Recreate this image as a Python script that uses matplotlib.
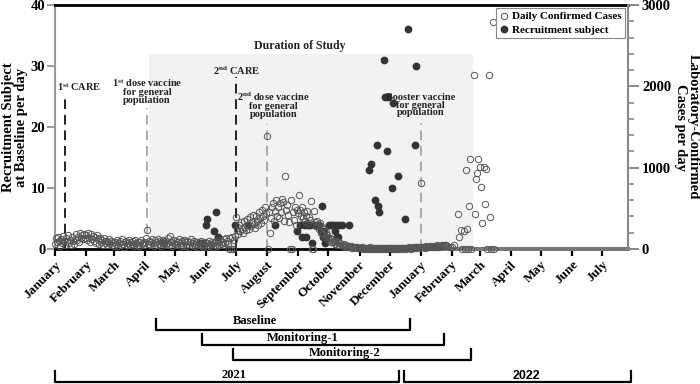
import numpy as np
import pandas as pd
import matplotlib
matplotlib.use('Agg')
import matplotlib.pyplot as plt
import matplotlib.dates as mdates
import matplotlib.transforms as mtransforms
from matplotlib.lines import Line2D

plt.rcParams['font.family'] = ['Liberation Serif', 'DejaVu Serif']
plt.rcParams['font.weight'] = 'bold'
plt.rcParams['mathtext.fontset'] = 'custom'
plt.rcParams['mathtext.rm'] = 'Liberation Serif:bold'
plt.rcParams['mathtext.it'] = 'Liberation Serif:bold'
plt.rcParams['mathtext.bf'] = 'Liberation Serif:bold'

# daily confirmed cases (right axis), one value per day from 1 Jan 2021
cases_2021_01 = [60, 130, 80, 150, 95, 40, 120, 70, 160, 100, 55, 135, 90, 170, 75, 115,
                 50, 145, 100, 65, 125, 180, 110, 150, 85, 200, 140, 175, 120, 190, 135]
cases_2021_02 = [170, 110, 195, 140, 80, 180, 125, 160, 95, 150, 70, 175, 120, 60,
                 140, 90, 110, 55, 130, 75, 100, 45, 85, 120, 60, 95, 50, 80]
cases_2021_03 = [40, 90, 60, 110, 35, 75, 95, 50, 120, 65, 30, 85, 100, 55, 70, 110,
                 45, 80, 60, 95, 40, 115, 70, 55, 90, 35, 80, 105, 60, 75, 50]
cases_2021_04 = [85, 130, 235, 60, 100, 45, 90, 120, 70, 40, 110, 80, 55, 125, 65,
                 95, 35, 85, 115, 60, 100, 45, 75, 130, 55, 160, 90, 40, 105, 70]
cases_2021_05 = [60, 100, 45, 90, 120, 70, 35, 95, 55, 110, 80, 40, 100, 65, 30, 85,
                 120, 50, 70, 95, 40, 60, 85, 30, 75, 50, 95, 35, 65, 40, 80]
cases_2021_06 = [30, 75, 50, 95, 35, 60, 85, 25, 70, 45, 100, 40, 80, 55, 110,
                 65, 90, 50, 120, 75, 140, 95, 60, 0, 130, 0, 150, 0, 110, 160]
cases_2021_07 = [390, 235, 180, 290, 220, 330, 250, 200, 340, 270, 230, 370, 300, 250, 390, 280,
                 330, 420, 310, 260, 400, 350, 290, 450, 380, 320, 480, 410, 360, 520, 440]
cases_2021_08 = [1390, 0, 450, 200, 380, 520, 560, 340, 470, 600, 410, 520, 380, 570, 460, 620,
                 580, 350, 900, 480, 540, 420, 330, 0, 600, 0, 450, 360, 520, 300, 480]
cases_2021_09 = [440, 665, 480, 400, 520, 380, 450, 350, 410, 470, 320, 390, 360, 590, 0,
                 0, 465, 330, 280, 350, 300, 250, 320, 200, 270, 180, 240, 150, 210, 170]
cases_2021_10 = [150, 110, 135, 90, 120, 80, 100, 65, 95, 55, 80, 45, 70, 50, 35, 60,
                 30, 50, 25, 40, 30, 20, 35, 15, 25, 30, 10, 20, 25, 10, 15]
cases_2021_11 = [15, 10, 20, 5, 15, 10, 5, 15, 10, 5, 20, 10, 5, 15, 5,
                 10, 15, 5, 10, 5, 15, 10, 5, 10, 15, 5, 10, 5, 15, 10]
cases_2021_12 = [10, 15, 5, 10, 15, 5, 10, 5, 15, 10, 5, 10, 15, 5, 10, 15,
                 5, 10, 15, 20, 10, 5, 15, 25, 10, 30, 15, 25, 30, 15, 25]
cases_2022_01 = [810, 20, 30, 25, 15, 35, 20, 30, 25, 40, 20, 35, 30,
                 25, 40, 30, 45, 37, 30, 40, 35, 45, 50, 40, 55, 45]

# Omicron surge, read point by point
surge_dates = ['2022-01-27', '2022-01-30', '2022-02-01', '2022-02-03', '2022-02-07', '2022-02-08',
               '2022-02-10', '2022-02-11', '2022-02-13', '2022-02-14', '2022-02-15', '2022-02-16',
               '2022-02-17', '2022-02-18', '2022-02-19', '2022-02-20', '2022-02-23', '2022-02-24',
               '2022-02-25', '2022-02-26', '2022-02-27', '2022-03-01', '2022-03-02', '2022-03-03',
               '2022-03-05', '2022-03-06', '2022-03-07', '2022-03-08', '2022-03-10', '2022-03-11',
               '2022-03-12', '2022-03-14', '2022-03-15']
surge_cases = [40, 30, 25, 50, 430, 150, 230, 0, 220, 0, 970, 245, 0, 530, 1110, 0, 2140, 430,
               860, 935, 1110, 1010, 765, 320, 1010, 550, 985, 0, 2140, 395, 0, 2790, 0]

# recruitment subjects at baseline (left axis)
recruit_dates = ['2021-04-19', '2021-05-25', '2021-05-27', '2021-05-29', '2021-06-01', '2021-06-02',
                 '2021-06-09', '2021-06-11', '2021-06-13', '2021-06-30', '2021-07-13', '2021-08-09',
                 '2021-08-31', '2021-09-03', '2021-09-05', '2021-09-08', '2021-09-09', '2021-09-11',
                 '2021-09-13', '2021-09-15', '2021-09-18', '2021-09-20', '2021-09-22', '2021-09-24',
                 '2021-09-25', '2021-09-26', '2021-09-27', '2021-09-28', '2021-09-29', '2021-10-02',
                 '2021-10-04', '2021-10-06', '2021-10-08', '2021-10-09', '2021-10-10', '2021-10-11',
                 '2021-10-12', '2021-10-14', '2021-10-21',
                 '2021-11-10', '2021-11-12', '2021-11-16', '2021-11-18', '2021-11-19', '2021-11-20',
                 '2021-11-25', '2021-11-26', '2021-11-28', '2021-11-29', '2021-12-03', '2021-12-04',
                 '2021-12-09', '2021-12-16', '2021-12-19', '2021-12-26', '2021-12-27']
recruit_counts = [1, 1, 1, 1, 4, 5, 3, 6, 2, 4, 4, 4,
                  3, 4, 2, 4, 2, 4, 4, 1, 4, 4, 4, 3,
                  7, 2, 3, 1, 2, 4, 4, 4, 3, 4, 2, 2, 4, 4, 4,
                  13, 14, 8, 17, 7, 6, 31, 25, 16, 25, 10, 24, 12, 5, 36, 17, 30]
recruit_zero_start, recruit_zero_end = '2021-10-24', '2022-07-27'

study_start, study_end, study_top = '2021-04-05', '2022-02-22', 32

# events: label, date, colour, line top (left units)
event_labels = ['1$^{st}$ CARE', '1$^{st}$ dose vaccine\nfor general\npopulation', '2$^{nd}$ CARE',
                '2$^{nd}$ dose vaccine\nfor general\npopulation', 'Booster vaccine\nfor general\npopulation']
event_dates = ['2021-01-11', '2021-04-03', '2021-07-01', '2021-08-01', '2022-01-01']
event_colors = ['#222222', '#aaaaaa', '#222222', '#aaaaaa', '#aaaaaa']
event_tops = [25.3, 23.1, 28.2, 20.5, 20.6]
event_text_x = ['2021-01-25', '2021-04-03', '2021-07-01', '2021-08-07', '2022-01-01']
event_text_y = [26.6, 25.9, 29.2, 23.6, 23.6]

# periods shown as brackets under the axis
periods = [('Baseline', '2021-04-12', '2021-12-21'),
           ('Monitoring-1', '2021-05-28', '2022-01-24'),
           ('Monitoring-2', '2021-06-28', '2022-02-20'),
           ('2021', '2021-01-01', '2021-12-10'),
           ('2022', '2021-12-15', '2022-07-30')]
period_line_px = [330, 345, 360, 382, 382]
period_text_px = [321, 338, 353, 375, 376]
period_text_frac = [0.39, 0.415, 0.47, 0.52, 0.54]

cases_daily = (cases_2021_01 + cases_2021_02 + cases_2021_03 + cases_2021_04 + cases_2021_05 +
               cases_2021_06 + cases_2021_07 + cases_2021_08 + cases_2021_09 + cases_2021_10 +
               cases_2021_11 + cases_2021_12 + cases_2022_01)
case_days = pd.date_range('2021-01-01', periods=len(cases_daily), freq='D')
case_x = list(case_days) + list(pd.to_datetime(surge_dates))
case_y = cases_daily + surge_cases

fig = plt.figure(figsize=(7, 3.84), dpi=100)
ax = fig.add_axes([55 / 700, 1 - 249 / 384, 573 / 700, 244 / 384])
ax2 = ax.twinx()

# study duration shading
ax.fill_between(pd.to_datetime([study_start, study_end]), 0, study_top,
                color='#f2f2f2', lw=0, zorder=0)
ax.text(pd.Timestamp('2021-09-02'), 33.2, 'Duration of Study', ha='center', va='center',
        fontsize=8.5, fontweight='bold', color='#222')

# event lines
for lab, d, c, top, tx, ty in zip(event_labels, event_dates, event_colors, event_tops,
                                  event_text_x, event_text_y):
    ax.vlines(pd.Timestamp(d), 0, top, colors=c, linestyles=(0, (5, 3)), lw=1.4, zorder=1)
    ax.text(pd.Timestamp(tx), ty, lab, ha='center', va='center', fontsize=7.5,
            fontweight='bold', color='#222', linespacing=0.85, zorder=4)

# recruitment
zero_days = pd.date_range(recruit_zero_start, recruit_zero_end, freq='D')
ax.plot(zero_days, np.zeros(len(zero_days)), ls='none', marker='s', ms=2.6,
        color='#777777', mew=0, clip_on=False, zorder=3)
ax.plot(pd.to_datetime(recruit_dates), recruit_counts, ls='none', marker='o', ms=4.6,
        color='#333333', mec='#333333', clip_on=False, zorder=3)

# daily cases
ax2.plot(case_x, case_y, ls='none', marker='o', ms=4.6, mfc='none', mec='#555555',
         mew=0.7, clip_on=False, zorder=3)

xmin, xmax = pd.Timestamp('2021-01-01'), pd.Timestamp('2022-07-27')
ax.set_xlim(xmin, xmax)
ax.set_ylim(0, 40)
ax2.set_ylim(0, 3000)

ax.xaxis.set_major_locator(mdates.MonthLocator())
ax.xaxis.set_major_formatter(mdates.DateFormatter('%B'))
for lab in ax.get_xticklabels():
    lab.set_rotation(45)
    lab.set_ha('right')
    lab.set_rotation_mode('anchor')
ax.tick_params(axis='x', direction='out', length=5, width=1.6, color='black',
               labelsize=9.5, pad=2)
ax.set_yticks([0, 10, 20, 30, 40])
ax.tick_params(axis='y', direction='out', length=6, width=1.4, color='#999999',
               labelsize=10.5, pad=1)
ax2.set_yticks([0, 1000, 2000, 3000])
ax2.set_yticks(np.arange(0, 3001, 200), minor=True)
ax2.tick_params(axis='y', which='major', direction='out', length=8, width=1.4,
                color='#888888', labelsize=10.5, pad=2)
ax2.tick_params(axis='y', which='minor', direction='out', length=4, width=1.2, color='#888888')

for s in ['top', 'bottom']:
    ax.spines[s].set_linewidth(2)
    ax.spines[s].set_color('black')
ax.spines['left'].set_color('#999999')
ax.spines['left'].set_linewidth(1.5)
ax.spines['right'].set_visible(False)
for s in ['top', 'bottom', 'left']:
    ax2.spines[s].set_visible(False)
ax2.spines['right'].set_color('#888888')
ax2.spines['right'].set_linewidth(1.5)

ax.set_ylabel('Recruitment Subject\nat Baseline per day', fontsize=10.5, fontweight='bold',
              labelpad=2, linespacing=0.95)
ax2.set_ylabel('Laboratory-Confirmed\nCases per day', fontsize=10.5, fontweight='bold',
               rotation=270, va='bottom', labelpad=2, linespacing=0.95)

handles = [Line2D([], [], ls='none', marker='o', ms=4.6, mfc='none', mec='#555555', mew=0.7),
           Line2D([], [], ls='none', marker='o', ms=4.6, color='#333333')]
leg = ax2.legend(handles, ['Daily Confirmed Cases', 'Recruitment subject'], loc='upper right',
                 fancybox=False, edgecolor='#888888', framealpha=1,
                 prop={'family': 'Liberation Serif', 'weight': 'bold', 'size': 8},
                 handlelength=0.8, handletextpad=0.3, borderpad=0.3, labelspacing=0.3,
                 borderaxespad=0.3)
leg.get_frame().set_linewidth(0.8)

# brackets below the axis
trans = mtransforms.blended_transform_factory(ax.transData, fig.transFigure)
for (lab, s, e), ly, ty, fr in zip(periods, period_line_px, period_text_px, period_text_frac):
    x0, x1 = mdates.date2num(pd.Timestamp(s)), mdates.date2num(pd.Timestamp(e))
    yl = 1 - ly / 384
    yt = 1 - (ly - 11) / 384
    ax.add_line(Line2D([x0, x0, x1, x1], [yt, yl, yl, yt], transform=trans, color='black',
                       lw=1.6, clip_on=False))
    fam = ['Liberation Sans', 'DejaVu Sans'] if lab == '2022' else ['Liberation Serif', 'DejaVu Serif']
    ax.text(x0 + fr * (x1 - x0), 1 - ty / 384, lab, transform=trans, ha='center', va='center',
            fontsize=9, fontweight='bold', family=fam)

fig.savefig('out.png', dpi=100)
